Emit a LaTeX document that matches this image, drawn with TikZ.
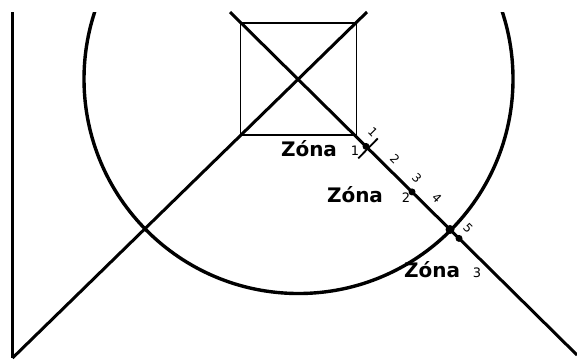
\documentclass[tikz,border=0pt]{standalone}
\usepackage{fontspec}
\setmainfont{DejaVu Sans}
\usetikzlibrary{positioning}

\begin{document}
\begin{tikzpicture}[x=0.5pt,y=-0.5pt,
  thickline/.style={line width=1.5pt},
  zonetext/.style={font=\bfseries\fontsize{10}{12}\selectfont,inner sep=0pt},
  zonenum/.style={font=\fontsize{6.5}{7}\selectfont,inner sep=0pt},
  marknum/.style={font=\fontsize{6}{7}\selectfont,inner sep=0pt,rotate=-45},
  mdot/.style={circle,fill,inner sep=0pt,minimum size=3.5pt}]
\useasboundingbox (0,0) rectangle (577,361);
\coordinate (C) at (298.5,79);
% pole on the left
\coordinate (poleT) at (12.5,12);
\coordinate (poleB) at (12.5,358);
\draw[thickline] (poleT) -- (poleB);
% circle, cut off at the top
\begin{scope}
\clip (0,12) rectangle (577,361);
\draw[line width=1.7pt] (C) circle[radius=214.5];
\end{scope}
% square and its diagonals
\coordinate (sqA) at (240.5,23);
\coordinate (sqB) at (356.5,135);
\draw[line width=0.9pt] (sqA) rectangle (sqB);
\coordinate (aT) at (367,12);
\coordinate (aB) at (12.5,358);
\coordinate (bT) at (230,12);
\coordinate (bB) at (577,355);
\draw[thickline] (aT) -- (aB);
\draw[thickline] (bT) -- (bB);
% marks on the line
\node[mdot] (d1) at (366,146.4) {};
\node[mdot] (d2) at (412,191.9) {};
\node[mdot,minimum size=4.5pt] (d3) at (450,229.5) {};
\node[mdot] (d4) at (459,238.4) {};
\coordinate (tkA) at (358.2,158.4);
\coordinate (tkB) at (377.8,138.4);
\draw[line width=0.9pt] (tkA) -- (tkB);
\node[marknum] (m1) at (373,132) {1};
\node[marknum] (m2) at (395,159) {2};
\node[marknum] (m3) at (417,178) {3};
\node[marknum] (m4) at (437,198) {4};
\node[marknum] (m5) at (468,228) {5};
% zone labels
\node[zonetext] (z1) at (309,149) {Zóna};
\node[zonenum] (n1) at (355,151) {1};
\node[zonetext] (z2) at (355,195) {Zóna};
\node[zonenum] (n2) at (406,198) {2};
\node[zonetext] (z3) at (432,270) {Zóna};
\node[zonenum] (n3) at (477,273) {3};
\end{tikzpicture}
\end{document}
